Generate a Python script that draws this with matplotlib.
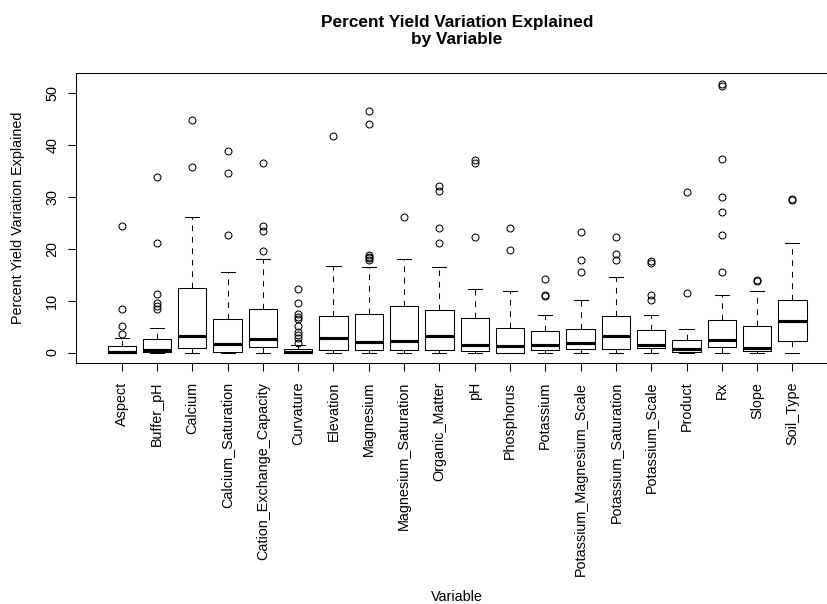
import matplotlib
matplotlib.use("Agg")
import matplotlib.pyplot as plt

plt.rcParams['font.family'] = ['Liberation Sans', 'DejaVu Sans']

variables = ["Aspect", "Buffer_pH", "Calcium", "Calcium_Saturation",
             "Cation_Exchange_Capacity", "Curvature", "Elevation", "Magnesium",
             "Magnesium_Saturation", "Organic_Matter", "pH", "Phosphorus",
             "Potassium", "Potassium_Magnesium_Scale", "Potassium_Saturation",
             "Potassium_Scale", "Product", "Rx", "Slope", "Soil_Type"]

q1 = [0.0, 0.06, 0.9, 0.13, 1.1, 0.0, 0.5, 0.58, 0.4, 0.5,
      0.26, 0.0, 0.45, 0.7, 0.6, 0.84, 0.13, 1.1, 0.26, 2.3]
median = [0.13, 0.58, 3.2, 1.6, 2.6, 0.19, 2.9, 2.0, 2.2, 3.15,
          1.4, 1.2, 1.5, 1.8, 3.2, 1.5, 0.6, 2.5, 0.97, 6.1]
q3 = [1.3, 2.6, 12.5, 6.4, 8.4, 0.7, 7.1, 7.4, 8.9, 8.2,
      6.6, 4.8, 4.1, 4.6, 7.1, 4.4, 2.4, 6.2, 5.1, 10.2]
whisker_low = [0.0] * 20
whisker_high = [2.8, 4.8, 26.1, 15.6, 18.0, 1.5, 16.7, 16.5, 18.0, 16.6,
                12.3, 11.8, 7.3, 10.1, 14.5, 7.3, 4.6, 11.2, 11.8, 21.2]
outliers = [
    [3.5, 5.2, 8.4, 24.4],
    [8.4, 8.9, 9.6, 11.3, 21.2, 33.8],
    [35.8, 44.9],
    [22.6, 34.7, 38.8],
    [19.5, 23.4, 24.4, 36.6],
    [1.9, 2.9, 3.4, 4.0, 5.1, 6.4, 6.9, 7.4, 9.6, 12.3],
    [41.8],
    [17.9, 18.2, 18.5, 18.8, 44.1, 46.6],
    [26.1],
    [21.2, 24.1, 31.2, 32.2],
    [22.3, 36.5, 37.2],
    [19.8, 24.0],
    [10.9, 11.2, 14.2],
    [15.5, 17.8, 23.2],
    [17.8, 19.0, 22.3],
    [10.1, 11.1, 17.3, 17.7],
    [11.5, 30.9],
    [15.5, 22.7, 27.1, 30.0, 37.3, 51.5, 51.8],
    [13.9, 14.0],
    [29.5, 29.7],
]
y_ticks = [0, 10, 20, 30, 40, 50]

W, H = 827, 604
fig = plt.figure(figsize=(W / 100, H / 100), dpi=100)
ax = fig.add_axes([75.8 / W, (H - 363.3) / H, 762.5 / W, 290.0 / H])

stats = []
for i, name in enumerate(variables):
    stats.append(dict(label=name, q1=q1[i], med=median[i], q3=q3[i],
                      whislo=whisker_low[i], whishi=whisker_high[i],
                      fliers=outliers[i]))

n = len(variables)
positions = list(range(1, n + 1))
lw = 0.75
ax.bxp(stats, positions=positions, widths=0.8, capwidths=0.4,
       boxprops=dict(color='black', linewidth=lw),
       whiskerprops=dict(color='black', linewidth=lw, linestyle=(0, (5.5, 5.5))),
       capprops=dict(color='black', linewidth=lw),
       medianprops=dict(color='black', linewidth=2.25, solid_capstyle='butt'),
       flierprops=dict(marker='o', markerfacecolor='none', markeredgecolor='black',
                       markersize=5, markeredgewidth=lw, linestyle='none'))

# R-style axis extents (4% padding)
xlo, xhi = 0.5, n + 0.5
ax.set_xlim(xlo - 0.04 * (xhi - xlo), xhi + 0.04 * (xhi - xlo))
ymin = min(whisker_low)
ymax = max(max(o) for o in outliers)
ax.set_ylim(ymin - 0.04 * (ymax - ymin), ymax + 0.04 * (ymax - ymin))

ax.set_xticks(positions)
ax.set_xticklabels(variables, rotation=90, fontsize=10.4)
ax.set_yticks(y_ticks)
ax.set_yticklabels([str(t) for t in y_ticks], rotation=90, fontsize=10.4, va='center')
ax.tick_params(axis='both', direction='out', length=6, width=lw, color='black')
ax.tick_params(axis='x', pad=7.2)
ax.tick_params(axis='y', pad=6)
for s in ax.spines.values():
    s.set_linewidth(lw)
    s.set_color('black')

cx = (75.8 + 762.5 / 2) / W
fig.text(cx, 1 - 31 / H, "Percent Yield Variation Explained\nby Variable",
         ha='center', va='center', fontsize=12.45, fontweight='bold', linespacing=1.15)
fig.text(cx, 1 - 597 / H, "Variable", ha='center', va='center', fontsize=10.4)
fig.text(18 / W, 1 - 218.3 / H, "Percent Yield Variation Explained",
         ha='center', va='center', rotation=90, fontsize=10.4)

fig.savefig("out.png", dpi=100)
